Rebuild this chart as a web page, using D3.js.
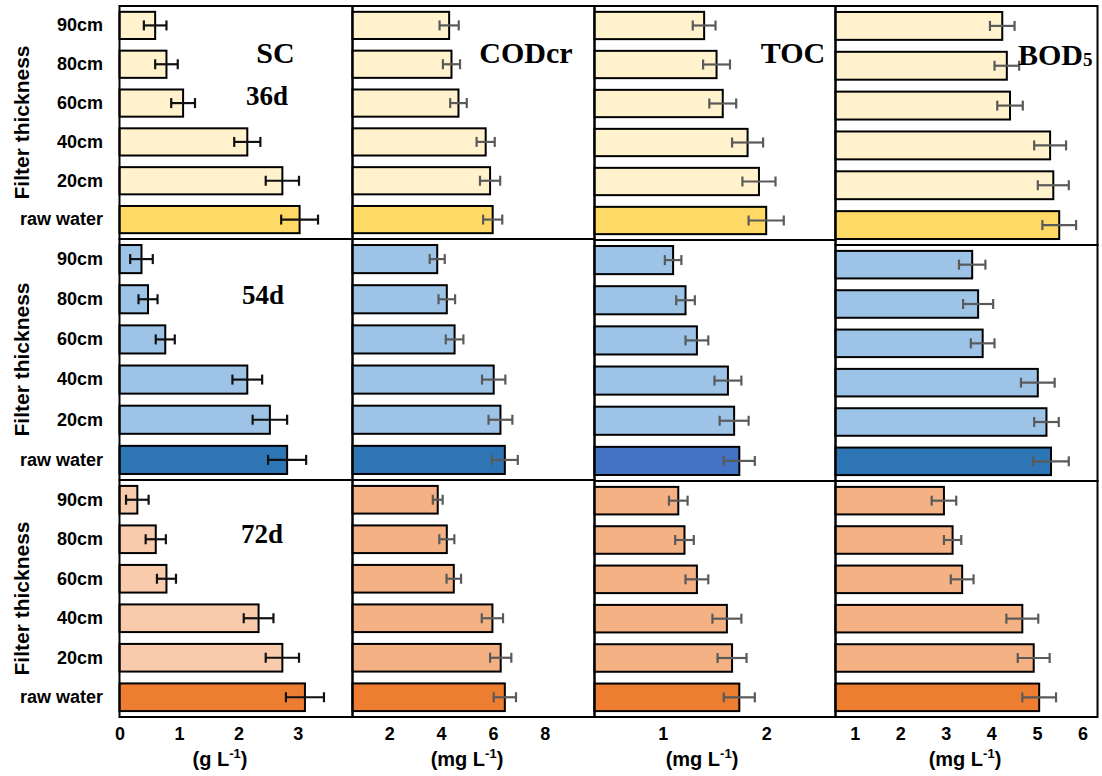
<!DOCTYPE html>
<html>
<head>
<meta charset="utf-8">
<script src="https://cdn.jsdelivr.net/npm/d3@7"></script>
<style>
  body { margin: 0; background: #fff; }
  svg { display: block; }
</style>
</head>
<body>
<svg id="chart" width="1102" height="776"></svg>
<script>
// Filter thickness groups (top to bottom in every panel)
const categories = ["90cm", "80cm", "60cm", "40cm", "20cm", "raw water"];
const periods = ["36d", "54d", "72d"];

// Means and standard errors, one inner array per period (36d, 54d, 72d)
const scMean = [[0.60, 0.79, 1.07, 2.15, 2.74, 3.03], [0.37, 0.48, 0.77, 2.15, 2.53, 2.82], [0.30, 0.61, 0.79, 2.34, 2.74, 3.12]];
const scErr  = [[0.19, 0.19, 0.20, 0.22, 0.28, 0.31], [0.19, 0.16, 0.16, 0.25, 0.29, 0.32], [0.19, 0.17, 0.16, 0.25, 0.28, 0.32]];
const codMean = [[4.31, 4.40, 4.67, 5.72, 5.89, 5.99], [3.85, 4.22, 4.52, 6.03, 6.29, 6.46], [3.87, 4.22, 4.49, 5.98, 6.30, 6.46]];
const codErr  = [[0.37, 0.33, 0.32, 0.35, 0.39, 0.37], [0.29, 0.32, 0.34, 0.45, 0.46, 0.50], [0.19, 0.29, 0.28, 0.41, 0.41, 0.43]];
const tocMean = [[1.40, 1.52, 1.58, 1.82, 1.93, 2.00], [1.10, 1.22, 1.33, 1.63, 1.69, 1.74], [1.15, 1.21, 1.33, 1.62, 1.67, 1.74]];
const tocErr  = [[0.11, 0.13, 0.13, 0.15, 0.16, 0.17], [0.08, 0.09, 0.11, 0.13, 0.14, 0.15], [0.09, 0.09, 0.11, 0.14, 0.14, 0.15]];
const bodMean = [[4.24, 4.34, 4.41, 5.29, 5.36, 5.49], [3.58, 3.71, 3.81, 5.02, 5.21, 5.31], [2.96, 3.15, 3.36, 4.68, 4.93, 5.05]];
const bodErr  = [[0.27, 0.27, 0.28, 0.35, 0.34, 0.37], [0.29, 0.33, 0.26, 0.37, 0.27, 0.39], [0.27, 0.19, 0.25, 0.35, 0.35, 0.37]];

// Tick labels of each column
const scTicks = [0, 1, 2, 3];
const codTicks = [2, 4, 6, 8];
const tocTicks = [1, 2];
const bodTicks = [1, 2, 3, 4, 5, 6];

// Fill colours per period: filtered samples and raw water
const lightFill = ["#FFF2CC", "#9DC3E6", "#F4B183"];
const rawFill = ["#FFD966", "#2E75B6", "#ED7D31"];

const sans = "'Liberation Sans', Arial, sans-serif";
const serif = "'Liberation Serif', 'Times New Roman', serif";

const columns = [
  { key: "SC", mean: scMean, err: scErr, ticks: scTicks, x0: 119.5, x1: 352.5, domain: [0, 3.92],
    unit: "g", titleX: 220, errColor: "#111",
    light: ["#FFF2CC", "#9DC3E6", "#F8CBAD"], raw: rawFill,
    rows: [[6, 239], [239, 480], [480, 717]] },
  { key: "CODcr", mean: codMean, err: codErr, ticks: codTicks, x0: 352.5, x1: 594.5, domain: [0.58, 9.92],
    unit: "mg", titleX: 467, errColor: "#5a5a5a",
    light: lightFill, raw: rawFill,
    rows: [[6, 239], [239, 480], [480, 717]] },
  { key: "TOC", mean: tocMean, err: tocErr, ticks: tocTicks, x0: 594.5, x1: 835.5, domain: [0.34, 2.67],
    unit: "mg", titleX: 702, errColor: "#5a5a5a",
    light: lightFill, raw: ["#FFD966", "#4472C4", "#ED7D31"],
    rows: [[6, 240], [240, 481], [481, 717]] },
  { key: "BOD", mean: bodMean, err: bodErr, ticks: bodTicks, x0: 835.5, x1: 1097.5, domain: [0.58, 6.33],
    unit: "mg", titleX: 965, errColor: "#5a5a5a",
    light: lightFill, raw: rawFill,
    rows: [[6, 245], [245, 481], [481, 717]] }
];

const svg = d3.select("#chart");
svg.append("rect").attr("width", 1102).attr("height", 776).attr("fill", "#fff");

columns.forEach(col => {
  const x = d3.scaleLinear().domain(col.domain).range([col.x0, col.x1]);
  const g = svg.append("g").attr("class", "col-" + col.key);

  periods.forEach((p, pi) => {
    const [top, bottom] = col.rows[pi];
    const y = d3.scaleBand().domain(categories).range([top, bottom])
      .paddingInner(0.3).paddingOuter(0.15);
    const rows = categories.map((c, i) => ({ cat: c, v: col.mean[pi][i], e: col.err[pi][i] }));
    const pg = g.append("g");

    pg.selectAll("rect.bar").data(rows).join("rect")
      .attr("class", "bar")
      .attr("x", x(col.domain[0]))
      .attr("y", d => y(d.cat))
      .attr("width", d => x(d.v) - x(col.domain[0]))
      .attr("height", y.bandwidth())
      .attr("fill", d => d.cat === "raw water" ? col.raw[pi] : col.light[pi])
      .attr("stroke", "#000")
      .attr("stroke-width", 2);

    const eb = pg.selectAll("g.err").data(rows).join("g").attr("class", "err")
      .attr("stroke", col.errColor).attr("stroke-width", 2.2);
    eb.append("line")
      .attr("x1", d => x(d.v - d.e)).attr("x2", d => x(d.v + d.e))
      .attr("y1", d => y(d.cat) + y.bandwidth() / 2).attr("y2", d => y(d.cat) + y.bandwidth() / 2);
    [-1, 1].forEach(s => {
      eb.append("line")
        .attr("x1", d => x(d.v + s * d.e)).attr("x2", d => x(d.v + s * d.e))
        .attr("y1", d => y(d.cat) + y.bandwidth() / 2 - 5)
        .attr("y2", d => y(d.cat) + y.bandwidth() / 2 + 5);
    });

    // panel frame
    pg.append("rect")
      .attr("x", col.x0).attr("y", top)
      .attr("width", col.x1 - col.x0).attr("height", bottom - top)
      .attr("fill", "none").attr("stroke", "#000").attr("stroke-width", 2);

    // category axis on the first column
    if (col.key === "SC") {
      const ax = svg.append("g")
        .attr("transform", `translate(${col.x0},0)`)
        .call(d3.axisLeft(y).tickSize(0).tickPadding(16.5));
      ax.select(".domain").remove();
      ax.selectAll("text")
        .attr("font-family", sans).attr("font-weight", "bold")
        .attr("font-size", 18).attr("fill", "#000");
      svg.append("text")
        .attr("transform", `translate(28.5,${(top + bottom) / 2}) rotate(-90)`)
        .attr("text-anchor", "middle")
        .attr("font-family", sans).attr("font-weight", "bold").attr("font-size", 21)
        .text("Filter thickness");
    }
  });

  // value axis
  const xa = svg.append("g")
    .attr("transform", `translate(0,${col.rows[2][1]})`)
    .call(d3.axisBottom(x).tickValues(col.ticks).tickSize(0).tickPadding(10).tickFormat(d3.format("d")));
  xa.select(".domain").remove();
  xa.selectAll("text")
    .attr("font-family", sans).attr("font-weight", "bold")
    .attr("font-size", 18).attr("fill", "#000");

  const t = svg.append("text")
    .attr("x", col.titleX).attr("y", 766)
    .attr("text-anchor", "middle")
    .attr("font-family", sans).attr("font-weight", "bold").attr("font-size", 20);
  t.append("tspan").text(`(${col.unit} L`);
  t.append("tspan").attr("dy", -8).attr("font-size", 13).text("-1");
  t.append("tspan").attr("dy", 8).text(")");
});

// indicator and period labels
const serifLabel = (txt, cx, by, size) => svg.append("text")
  .attr("x", cx).attr("y", by).attr("text-anchor", "middle")
  .attr("font-family", serif).attr("font-weight", "bold").attr("font-size", size)
  .text(txt);

serifLabel("SC", 275.5, 63, 30);
serifLabel("CODcr", 526, 63, 30);
serifLabel("TOC", 793, 63, 30);
const bod = svg.append("text")
  .attr("x", 1018).attr("y", 65)
  .attr("font-family", serif).attr("font-weight", "bold").attr("font-size", 30);
bod.append("tspan").text("BOD");
bod.append("tspan").attr("font-size", 19).attr("dy", 1).text("5");

const periodPos = [[267, 105], [263, 304], [262, 542.5]];
periods.forEach((p, i) => serifLabel(p, periodPos[i][0], periodPos[i][1], 27));
</script>
</body>
</html>
